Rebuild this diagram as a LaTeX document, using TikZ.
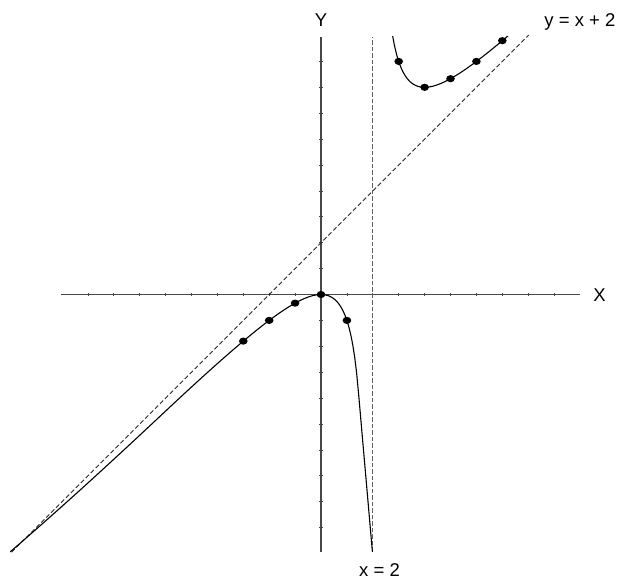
\documentclass[tikz,border=0pt]{standalone}
\usepackage{fontspec}
\setmainfont{Liberation Sans}
\begin{document}
\begin{tikzpicture}[x=25.9pt,y=25.9pt,
  axis/.style={draw=black!72, line width=1.2pt},
  tickmark/.style={draw=black!72, line width=0.8pt},
  curve/.style={draw=black, line width=1.1pt},
  asym/.style={draw=black!85, line width=1pt, dash pattern=on 4.5pt off 2.5pt},
  vasym/.style={draw=black!62, line width=1.1pt, dash pattern=on 4.5pt off 2pt},
  lbl/.style={font=\fontsize{18.5}{21}\selectfont, inner sep=0pt, text=black}]
\useasboundingbox (-12.394,-11.023) rectangle (11.583,11.371);
% axes
\draw[axis] (-10.02,0) -- (10.0,0);
\draw[axis] (0,-9.95) -- (0,9.95);
\foreach \i in {-9,...,-1,1,2,...,9} {
  \draw[tickmark] (\i,-0.06) -- (\i,0.06);
  \draw[tickmark] (-0.06,\i) -- (0.06,\i);
}
% asymptotes
\draw[asym] (-11.95,-9.95) -- (8.02,10.02);
\draw[vasym] (2,-9.94) -- (2,9.96);
% curve
\begin{scope}
\clip (-12.5,-10.2) rectangle (10,9.96);
\draw[curve] plot[domain=2.7:7.4, samples=120] (\x,{\x*\x/(\x-2)});
\draw[curve] plot[domain=-12:1.45, samples=180] (\x,{\x*\x/(\x-2) + 0.35*(min(\x+6,0)/6)^2}) -- (1.985,-9.94);
\end{scope}
% dots
\foreach \px in {-3,-2,-1,0,1,3,4,5,6,7} {
  \fill ({\px},{\px*\px/(\px-2)}) ellipse [x radius=4.3pt, y radius=3.6pt];
}
% labels
\node[lbl, anchor=base] (ylab) at (0,10.34) {Y};
\node[lbl, anchor=base west] (xlab) at (10.51,-0.278) {X};
\node[lbl, anchor=base west] (alab) at (8.62,10.34) {y = x + 2};
\node[lbl, anchor=base west] (vlab) at (1.467,-10.87) {x = 2};
\end{tikzpicture}
\end{document}
